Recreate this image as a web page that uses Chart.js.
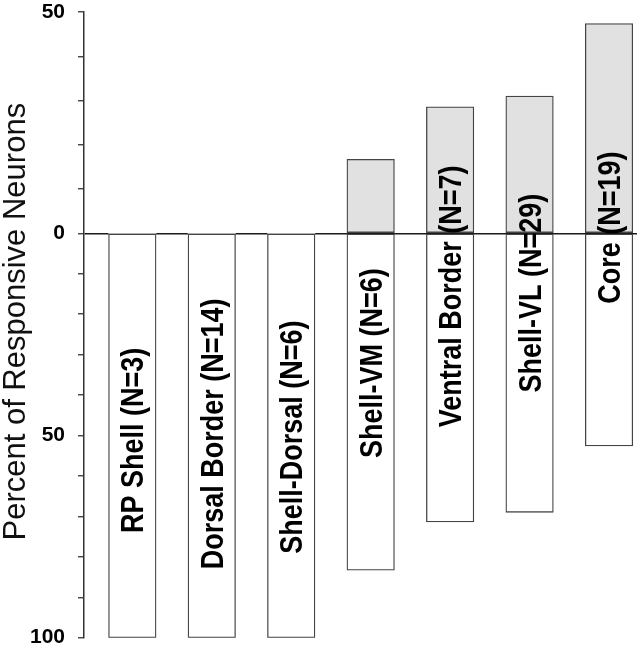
<!DOCTYPE html>
<html>
<head>
<meta charset="utf-8">
<script src="https://cdn.jsdelivr.net/npm/chart.js@4.4.1/dist/chart.umd.min.js"></script>
<style>
  html, body { margin: 0; padding: 0; background: #fff; }
  #wrap { width: 637px; height: 649px; position: relative; }
</style>
</head>
<body>
<div id="wrap"><canvas id="chart"></canvas></div>
<script>
// nucleus regions, in plot order
const regions = ['RP Shell (N=3)', 'Dorsal Border (N=14)', 'Shell-Dorsal (N=6)', 'Shell-VM (N=6)',
                 'Ventral Border (N=7)', 'Shell-VL (N=29)', 'Core (N=19)'];

// percent of responsive neurons: drawn upward (grey) and downward (white)
const upValues   = [0, 0, 0, 16.7, 28.6, 31.0, 47.4];
const downValues = [100, 100, 100, 83.3, 71.4, 69.0, 52.6];

// labelled ticks on each half of the axis (minor ticks every 10)
const upTicks   = [0, 50];
const downTicks = [50, 100];
const UP_MAX = 50, DOWN_MAX = 100;

const axisTitle = 'Percent of Responsive Neurons';

// centre of each bar label, in units of the lower half (negative = above zero)
const labelAt = [51.2, 49.6, 50.4, 32.1, 15.6, 14.8, -1.3];

const FONT = '"Liberation Sans", Arial, Helvetica, sans-serif';

// linear axis whose upper (0..max) and lower (min..0) halves have their own unit length
class SplitScale extends Chart.LinearScale {
  static id = 'split';
  static defaults = Chart.LinearScale.defaults;

  buildTicks() {
    const step = this.options.ticks.stepSize;
    const ticks = [];
    for (let v = this.min; v <= this.max + 1e-9; v += step) ticks.push({ value: v });
    return ticks;
  }
  zeroPixel() {
    return this.top + (this.bottom - this.top) * this.options.upShare;
  }
  getPixelForValue(v) {
    const z = this.zeroPixel();
    return v >= 0 ? z - v / this.max * (z - this.top)
                  : z + v / this.min * (this.bottom - z);
  }
  getValueForPixel(p) {
    const z = this.zeroPixel();
    return p <= z ? (z - p) / (z - this.top) * this.max
                  : (p - z) / (this.bottom - z) * this.min;
  }
}
Chart.register(SplitScale);

const barLabels = {
  id: 'barLabels',
  afterDatasetsDraw(chart) {
    const { ctx, scales } = chart;
    const size = 27, stretch = 1.15;
    const cap = size * 0.716 * stretch;
    ctx.save();
    ctx.fillStyle = '#000';
    ctx.textAlign = 'center';
    ctx.textBaseline = 'alphabetic';
    ctx.font = `bold ${size}px ${FONT}`;
    regions.forEach((name, i) => {
      const cx = scales.x.getPixelForValue(i + 1);
      const cy = scales.y.getPixelForValue(-labelAt[i]);
      ctx.save();
      ctx.translate(cx + cap / 2, cy);
      ctx.rotate(-Math.PI / 2);
      ctx.scale(1, stretch);
      ctx.fillText(name, 0, 0);
      ctx.restore();
    });

    // y axis title
    ctx.font = `31px ${FONT}`;
    ctx.fillStyle = '#111';
    ctx.translate(25, 321.7);
    ctx.rotate(-Math.PI / 2);
    ctx.fillText(axisTitle, 0, 0);
    ctx.restore();
  }
};

new Chart(document.getElementById('chart'), {
  type: 'bar',
  data: {
    datasets: [
      {
        data: upValues.map((v, i) => ({ x: i + 1, y: v })),
        backgroundColor: '#e1e1e1',
        borderColor: '#444',
        borderWidth: c => (c.raw && c.raw.y) ? 1.3 : 0,
        borderSkipped: false,
        barThickness: 47.5,
        grouped: false
      },
      {
        data: downValues.map((v, i) => ({ x: i + 1, y: -v })),
        backgroundColor: '#fff',
        borderColor: '#444',
        borderWidth: 1.3,
        borderSkipped: false,
        barThickness: 47.5,
        grouped: false
      }
    ]
  },
  options: {
    responsive: true,
    maintainAspectRatio: false,
    animation: false,
    layout: { padding: { top: 0, bottom: 0, left: 0, right: 0 } },
    plugins: { legend: { display: false }, tooltip: { enabled: false } },
    scales: {
      x: { type: 'linear', display: false, offset: false, grid: { offset: false }, min: 0.392, max: 7.352 },
      y: {
        type: 'split',
        position: 'left',
        min: -DOWN_MAX,
        max: UP_MAX,
        upShare: 221.3 / 625.7,
        ticks: {
          stepSize: 10,
          autoSkip: false,
          padding: 13,
          color: '#000',
          font: { family: FONT, size: 21, weight: 'bold', lineHeight: 1.14 },
          callback: v => (v >= 0 ? upTicks.includes(v) : downTicks.includes(-v)) ? String(Math.abs(v)) : ''
        },
        grid: {
          color: c => (c.tick && c.tick.value === 0) ? '#1a1a1a' : 'rgba(0,0,0,0)',
          lineWidth: 1.5,
          tickLength: 6,
          tickColor: '#333',
          tickWidth: 1.3
        },
        border: { display: true, color: '#333', width: 1.5 },
        afterFit: s => {
          s.width = 84;
          s.paddingTop = 12;
          s.paddingBottom = 11.3;
        }
      }
    }
  },
  plugins: [barLabels]
});
</script>
</body>
</html>
